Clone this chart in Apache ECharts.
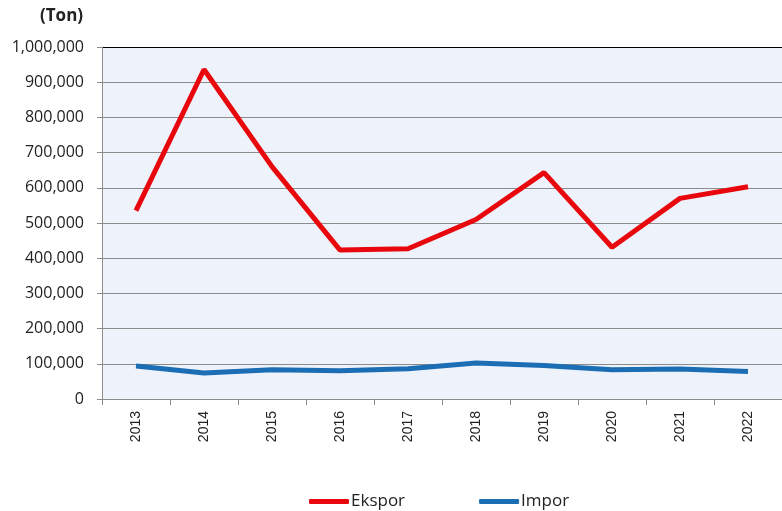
<!DOCTYPE html>
<html>
<head>
<meta charset="utf-8">
<script src="https://cdn.jsdelivr.net/npm/echarts@6/dist/echarts.min.js"></script>
<style>
html,body{margin:0;padding:0;background:#fff;}
#chart{width:782px;height:511px;}
</style>
</head>
<body>
<div id="chart"></div>
<script>
var categories = ['2013','2014','2015','2016','2017','2018','2019','2020','2021','2022'];
var ekspor = [535000, 936000, 660000, 423000, 427000, 510000, 643000, 431000, 570000, 603000];
var impor = [94000, 74000, 83000, 80000, 86000, 102000, 95000, 83000, 85000, 78000];
var yMin = 0, yMax = 1000000, yStep = 100000;

var chart = echarts.init(document.getElementById('chart'));
var gridColors = [];
for (var i = 0; i < 10; i++) gridColors.push('#8c8c8c');
gridColors.push('#000000');

chart.setOption({
  animation: false,
  backgroundColor: '#ffffff',
  textStyle: { fontFamily: 'Open Sans' },
  grid: {
    left: 102, right: -11, top: 47, bottom: 112,
    show: true, backgroundColor: '#eef3fb', borderWidth: 0
  },
  graphic: [{
    type: 'text', left: 40, top: 8,
    style: { text: '(Ton)', font: 'bold 17px "Open Sans"', fill: '#222' }
  }],
  legend: {
    left: 304, top: 488,
    itemWidth: 40, itemHeight: 5, itemGap: 74,
    icon: 'roundRect',
    textStyle: { fontSize: 17, color: '#222', padding: [0, 0, 0, -3], fontFamily: 'Open Sans' },
    data: ['Ekspor', 'Impor']
  },
  xAxis: {
    type: 'category',
    data: categories,
    boundaryGap: true,
    axisLine: { lineStyle: { color: '#8c8c8c', width: 1 } },
    axisTick: { show: true, length: 6, lineStyle: { color: '#8c8c8c' } },
    axisLabel: { rotate: 90, margin: 12, fontSize: 14, color: '#222', fontFamily: 'Liberation Sans' },
    splitLine: { show: false }
  },
  yAxis: {
    type: 'value',
    min: yMin, max: yMax, interval: yStep,
    axisLine: { show: true, lineStyle: { color: '#8c8c8c', width: 1 } },
    axisTick: { show: true, length: 5, lineStyle: { color: '#8c8c8c' } },
    axisLabel: {
      margin: 18, fontSize: 16, color: '#222', fontFamily: 'Open Sans',
      formatter: function (v) { return v.toLocaleString('en-US'); }
    },
    splitLine: { show: true, lineStyle: { color: gridColors, width: 1 } }
  },
  series: [
    {
      name: 'Ekspor', type: 'line', data: ekspor,
      symbol: 'none', lineStyle: { color: '#e8070d', width: 5 },
      itemStyle: { color: '#e8070d' }
    },
    {
      name: 'Impor', type: 'line', data: impor,
      symbol: 'none', lineStyle: { color: '#1b6db4', width: 5 },
      itemStyle: { color: '#1b6db4' }
    }
  ]
});
</script>
</body>
</html>
